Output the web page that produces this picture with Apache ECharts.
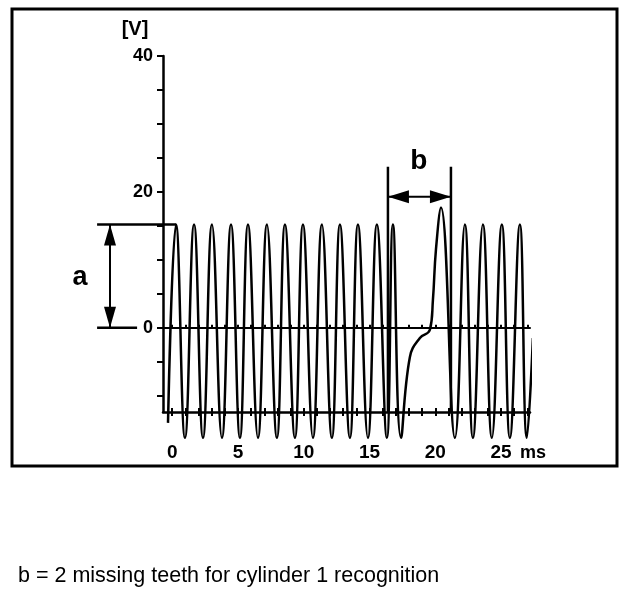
<!DOCTYPE html>
<html><head><meta charset="utf-8">
<script src="https://cdn.jsdelivr.net/npm/echarts@6/dist/echarts.min.js"></script>
<style>html,body{margin:0;padding:0;background:#fff}#c{width:640px;height:596px}</style>
</head><body><div id="c"></div>
<script>
// Waveform points (time in ms, voltage in V)
const timeMs = [-0.32, 0.29, 0.97, 1.66, 2.34, 3.02, 3.78, 4.47, 5.15, 5.76, 6.52, 7.20, 7.96, 8.57, 9.33, 9.94, 10.70, 11.38, 12.14, 12.75, 13.51, 14.12, 14.88, 15.56, 16.32, 16.78, 17.39, 18.07, 18.83, 19.59, 19.82, 20.05, 20.43, 21.49, 22.25, 22.86, 23.62, 24.30, 25.06, 25.67, 26.43, 26.96, 27.42];
const volts  = [-14, 15.2, -16.2, 15.2, -16.2, 15.2, -16.2, 15.2, -16.2, 15.2, -16.2, 15.2, -16.2, 15.2, -16.2, 15.2, -16.2, 15.2, -16.2, 15.2, -16.2, 15.2, -16.2, 15.2, -16.2, 15.2, -16.2, -4.3, -1.5, -0.3, 4.1, 11.5, 17.7, -16.2, 15.2, -16.2, 15.2, -16.2, 15.2, -16.2, 15.2, -16.2, -1.5];
const xTickLabels = [0, 5, 10, 15, 20, 25];
const xTicks = [0,1,2,3,4,5,6,7,8,9,10,11,12,13,14,15,16,17,18,19,20,21,22,23,24,25,26,27];
const yTickLabels = [0, 20, 40];
const yTicks = [-10, -5, 0, 5, 10, 15, 20, 25, 30, 35, 40];
const aLevel = 15.2;          // tooth amplitude "a"
const firstPeak = 0.29;
const bStart = 16.4, bEnd = 21.19;   // gap "b" markers (ms)
const caption = 'b = 2 missing teeth for cylinder 1 recognition';

const FONT = '"Liberation Sans", Arial, sans-serif';
const X_MIN = -0.7, X_MAX = 27.2, Y_MIN = -12.4, Y_MAX = 40;

const chart = echarts.init(document.getElementById('c'), null, {renderer: 'canvas'});
const blk = '#000';
const xBase = {type: 'value', min: X_MIN, max: X_MAX, splitLine: {show: false}};
chart.setOption({
  animation: false,
  backgroundColor: '#fff',
  grid: {left: 163, top: 56, width: 367, height: 356},
  xAxis: [
    Object.assign({}, xBase, {position: 'bottom',
      axisLine: {onZero: false, lineStyle: {color: blk, width: 2.5}},
      axisTick: {show: true, inside: false, length: 4, customValues: xTicks, lineStyle: {color: blk, width: 2}},
      axisLabel: {customValues: xTickLabels, margin: 31, color: blk, fontSize: 19, fontWeight: 'bold', fontFamily: FONT}}),
    Object.assign({}, xBase, {position: 'bottom',
      axisLine: {show: false, onZero: false},
      axisTick: {show: true, inside: true, length: 4, customValues: xTicks, lineStyle: {color: blk, width: 2}},
      axisLabel: {show: false}}),
    Object.assign({}, xBase, {position: 'bottom',
      axisLine: {show: true, onZero: true, lineStyle: {color: blk, width: 2}},
      axisTick: {show: true, inside: true, length: 3, customValues: xTicks, lineStyle: {color: blk, width: 2}},
      axisLabel: {show: false}}),
    Object.assign({}, xBase, {position: 'bottom',
      axisLine: {show: false, onZero: true},
      axisTick: {show: true, inside: false, length: 3, customValues: xTicks, lineStyle: {color: blk, width: 2}},
      axisLabel: {show: false}})
  ],
  yAxis: {
    type: 'value', min: Y_MIN, max: Y_MAX, splitLine: {show: false},
    axisLine: {onZero: false, lineStyle: {color: blk, width: 2.5}},
    axisTick: {show: true, length: 6, customValues: yTicks, lineStyle: {color: blk, width: 2}},
    axisLabel: {customValues: yTickLabels, margin: 10, color: blk, fontSize: 18, fontWeight: 'bold', fontFamily: FONT}
  },
  series: [{
    type: 'line', xAxisIndex: 0, yAxisIndex: 0,
    data: timeMs.map((t, i) => [t, volts[i]]),
    showSymbol: false, smooth: 0.45, clip: false,
    lineStyle: {color: blk, width: 2.5}
  }]
});

const P = (x, y) => chart.convertToPixel({xAxisIndex: 0, yAxisIndex: 0}, [x, y]);
function line(a, b, w) {
  return {type: 'line', shape: {x1: a[0], y1: a[1], x2: b[0], y2: b[1]}, style: {stroke: blk, lineWidth: w || 2.5}};
}
function head(tip, dir, len, wid) { // dir: unit vector pointing toward tip
  const bx = tip[0] - dir[0] * len, by = tip[1] - dir[1] * len;
  const nx = -dir[1] * wid / 2, ny = dir[0] * wid / 2;
  return {type: 'polygon', shape: {points: [[tip[0], tip[1]], [bx + nx, by + ny], [bx - nx, by - ny]]}, style: {fill: blk}};
}
const g = [];
// frame
g.push({type: 'rect', shape: {x: 12, y: 9, width: 605, height: 457}, style: {fill: null, stroke: blk, lineWidth: 3}});
// "a" annotation
const aTopL = P(-5.71, aLevel), aTopR = P(firstPeak, aLevel);
const aBotL = P(-5.71, 0), aBotR = P(-2.67, 0);
g.push(line(aTopL, aTopR), line(aBotL, aBotR));
const aArrTop = P(-4.73, aLevel), aArrBot = P(-4.73, 0);
g.push(line(aArrTop, aArrBot, 2));
g.push(head(aArrTop, [0, -1], 21, 12), head(aArrBot, [0, 1], 21, 12));
const aTxt = P(-7.0, 7.4);
g.push({type: 'text', x: aTxt[0], y: aTxt[1], style: {text: 'a', font: 'bold 27px ' + FONT, fill: blk, align: 'center', verticalAlign: 'middle'}});
// "b" annotation
const bTop = 23.7, bArr = 19.3;
g.push(line(P(bStart, bTop), P(bStart, Y_MIN)), line(P(bEnd, bTop), P(bEnd, Y_MIN)));
const bl = P(bStart, bArr), br = P(bEnd, bArr);
g.push(line(bl, br, 2));
g.push(head(bl, [-1, 0], 21, 13), head(br, [1, 0], 21, 13));
const bTxt = P(18.75, 24.5);
g.push({type: 'text', x: bTxt[0], y: bTxt[1], style: {text: 'b', font: 'bold 28px ' + FONT, fill: blk, align: 'center', verticalAlign: 'middle'}});
// unit labels
const vTxt = P(-2.83, 43.9);
g.push({type: 'text', x: vTxt[0], y: vTxt[1], style: {text: '[V]', font: 'bold 20px ' + FONT, fill: blk, align: 'center', verticalAlign: 'middle'}});
const msPos = P(25, Y_MIN);
g.push({type: 'text', x: msPos[0] + 19, y: msPos[1] + 41, style: {text: 'ms', font: 'bold 18px ' + FONT, fill: blk, align: 'left', verticalAlign: 'middle'}});
// caption
g.push({type: 'text', x: 18, y: 576, style: {text: caption, font: '21.5px ' + FONT, fill: blk, align: 'left', verticalAlign: 'middle'}});
chart.setOption({graphic: {elements: g}});
</script>
</body></html>
